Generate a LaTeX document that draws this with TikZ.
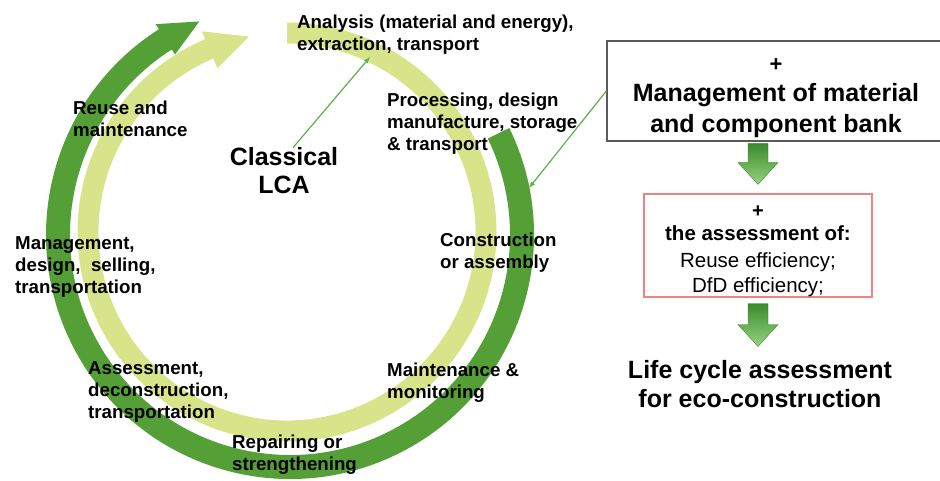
\documentclass[tikz,border=0pt]{standalone}
\usepackage{fontspec}
\setmainfont{Liberation Sans}
\usetikzlibrary{calc}

\definecolor{cycleDark}{RGB}{85,159,55}
\definecolor{cycleLight}{RGB}{215,228,138}
\definecolor{pointerGreen}{RGB}{92,176,72}
\definecolor{boxRed}{RGB}{240,130,130}
\definecolor{boxGray}{RGB}{90,90,90}
\definecolor{arrowTop}{RGB}{58,138,44}
\definecolor{arrowBot}{RGB}{150,212,128}

% block arrow from #1 (top of shaft) down to #2 (tip)
\newcommand{\blockarrow}[2]{%
  \shade[top color=arrowTop, bottom color=arrowBot, draw=arrowTop!85!black, line width=0.3pt]
    ($(#1)+(-10,0)$) -- ($(#1)+(10,0)$) -- ($(#2)+(10,22)$) -- ($(#2)+(20,22)$)
    -- (#2) -- ($(#2)+(-20,22)$) -- ($(#2)+(-10,22)$) -- cycle;}

\begin{document}
\begin{tikzpicture}[x=1pt, y=1pt, >=latex,
    stage/.style={font=\fontsize{18.7}{22}\selectfont\bfseries, align=left, anchor=west, inner sep=0pt},
    pointer/.style={->, draw=pointerGreen, line width=1.2pt}]
            \clip (0,0) rectangle (940,-481);

            % ==== OUTER CYCLE (DARK) ====
            \begin{scope}[shift={(290,-235)}]
                \fill[cycleDark] (26:244) arc[start angle=26, end angle=-237.5, radius=244]
                    -- (-237.5:250) -- (-247:232) -- (-237.5:214) -- (-237.5:220)
                    arc[start angle=-237.5, end angle=26, radius=220] -- cycle;
            \end{scope}

            % ==== INNER CYCLE (LIGHT) ====
            \begin{scope}[shift={(287,-232)}]
                \fill[cycleLight] (90:209.5) arc[start angle=90, end angle=-247, radius=209.5]
                    -- (-247:218) -- (-259:199) -- (-247:178) -- (-247:188.5)
                    arc[start angle=-247, end angle=90, radius=188.5] -- cycle;
            \end{scope}

            % ==== STAGES ====
            \node[stage] (analysis) at (297,-34.9) {Analysis (material and energy),\\extraction, transport};
            \node[stage] (reuse) at (73,-118.9) {Reuse and\\maintenance};
            \node[stage] (processing) at (387,-123.9) {Processing, design\\manufacture, storage\\\& transport};
            \node[stage] (management) at (15,-266.9) {Management,\\design,~ selling,\\transportation};
            \node[stage] (construction) at (440,-252.9) {Construction\\or assembly};
            \node[stage] (assessment) at (88,-391.9) {Assessment,\\deconstruction,\\transportation};
            \node[stage] (maintenance) at (387,-382.9) {Maintenance \&\\monitoring};
            \node[stage] (repairing) at (232,-454.9) {Repairing or\\strengthening};

            % ==== CLASSICAL LCA ====
            \node[font=\fontsize{25}{28}\selectfont\bfseries, align=center, inner sep=0pt] (lca) at (284,-171) {Classical\\LCA};
            \coordinate (lcaTip) at (370,-57);
            \draw[pointer] ([xshift=9pt]lca.north) -- (lcaTip);

            % ==== MATERIAL BANK ====
            \node[draw=boxGray, line width=1.3pt, minimum width=338pt, minimum height=100pt, inner sep=0pt,
                  align=center, font=\fontsize{25}{31}\selectfont\bfseries] (bank) at (776,-91)
                {{\fontsize{22}{26}\selectfont\rule{0pt}{26.8pt}+}\\[-1.5pt]Management of material\\and component bank};
            \coordinate (bankTip) at (529,-188);
            \draw[pointer] (bank.west) -- (bankTip);

            % ==== ASSESSMENT BOX ====
            \node[draw=boxRed, line width=1.1pt, minimum width=228pt, minimum height=103pt, inner sep=0pt,
                  align=center, font=\fontsize{20.5}{25}\selectfont] (assess) at (758,-245.5)
                {{\bfseries\fontsize{20}{24}\selectfont\rule{0pt}{22.3pt}+}\\[-2pt]{\bfseries the assessment of:}\\[2pt]Reuse efficiency;\\DfD efficiency;};

            % ==== RESULT ====
            \node[font=\fontsize{25}{29}\selectfont\bfseries, align=center, inner sep=0pt] (result) at (760,-384.4)
                {Life cycle assessment\\for eco-construction};

            % ==== BLOCK ARROWS ====
            \coordinate (arrowOneTop) at ($(assess.north |- bank.south)+(0,-2)$);
            \coordinate (arrowOneTip) at ($(assess.north)+(0,9)$);
            \coordinate (arrowTwoTop) at ($(assess.south)+(0,-6)$);
            \coordinate (arrowTwoTip) at ($(assess.south)+(0,-49)$);
            \blockarrow{arrowOneTop}{arrowOneTip}
            \blockarrow{arrowTwoTop}{arrowTwoTip}
\end{tikzpicture}
\end{document}
